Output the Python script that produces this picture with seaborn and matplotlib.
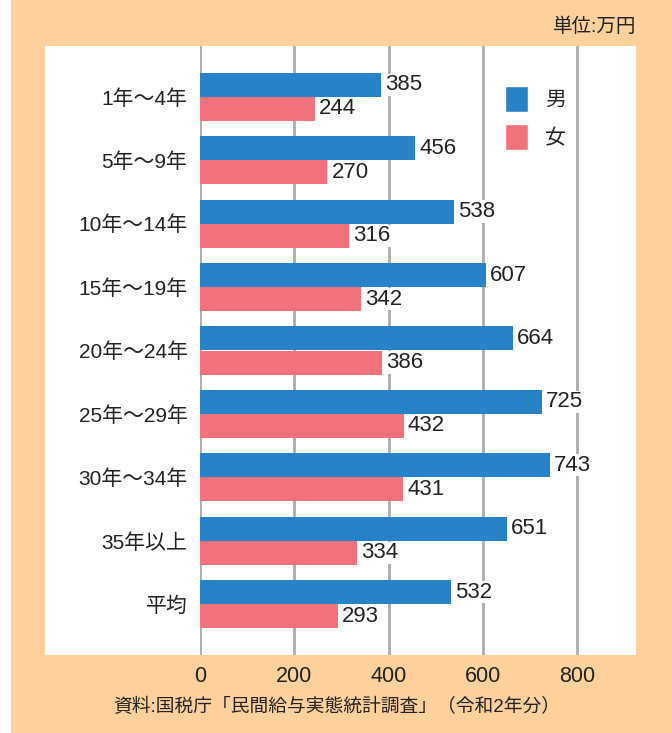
import pandas as pd
import seaborn as sns
import matplotlib.pyplot as plt
from matplotlib.patches import Rectangle, Patch

# data
categories = ["1年～4年", "5年～9年", "10年～14年", "15年～19年", "20年～24年",
              "25年～29年", "30年～34年", "35年以上", "平均"]
male = [385, 456, 538, 607, 664, 725, 743, 651, 532]
female = [244, 270, 316, 342, 386, 432, 431, 334, 293]
xticks = [0, 200, 400, 600, 800]

BLUE = "#2882C8"
PINK = "#F2727C"
PEACH = "#FDD09C"
GRID = "#ABABB0"
TXT = "#222222"
FAM = ["Liberation Sans", "Noto Sans CJK JP", "DejaVu Sans"]

df = pd.DataFrame({
    "年数": categories * 2,
    "金額": male + female,
    "性別": ["男"] * len(male) + ["女"] * len(female),
})

sns.set_style("white")
plt.rcParams["font.family"] = FAM

W, H = 672, 733
fig = plt.figure(figsize=(W / 100, H / 100), dpi=100)
fig.patch.set_facecolor("white")

# peach frame and white panel
fig.add_artist(Rectangle((11 / W, 0), 1 - 11 / W, 1, transform=fig.transFigure,
                         facecolor=PEACH, edgecolor="none", zorder=-2))
fig.add_artist(Rectangle((45 / W, (H - 655) / H), (636 - 45) / W, (655 - 46) / H,
                         transform=fig.transFigure, facecolor="white",
                         edgecolor="none", zorder=-1))

ax = fig.add_axes([200 / W, (H - 655) / H, (636 - 200) / W, (655 - 46) / H])
ax.patch.set_alpha(0)

sns.barplot(data=df, y="年数", x="金額", hue="性別", orient="h",
            palette={"男": BLUE, "女": PINK}, width=0.76, saturation=1,
            linewidth=0, legend=False, ax=ax, zorder=3)

for cont in ax.containers:
    ax.bar_label(cont, padding=3, fontsize=16, color=TXT, zorder=5,
                 bbox=dict(facecolor="white", edgecolor="none", pad=0.5))

xmax = (636 - 200) / ((577 - 200) / 800)
ax.set_xlim(0, xmax)
ax.set_ylim(8.8, -0.8)
ax.set_xticks(xticks)
ax.set_xticklabels([str(t) for t in xticks])
for t in xticks:
    ax.axvline(t, color=GRID, lw=2, zorder=1)

ax.set_xlabel("")
ax.set_ylabel("")
for s in ax.spines.values():
    s.set_visible(False)
ax.tick_params(axis="y", length=0, pad=9, labelsize=15, labelcolor=TXT)
ax.tick_params(axis="x", length=0, pad=8, labelsize=15.5, labelcolor=TXT)

handles = [Patch(facecolor=BLUE, label="男"), Patch(facecolor=PINK, label="女")]
ax.legend(handles=handles, loc="upper left", bbox_to_anchor=(0.70, 0.935),
          frameon=False, fontsize=15, handlelength=1.1, handleheight=1.55,
          labelspacing=0.6, handletextpad=0.8, borderpad=0, borderaxespad=0)

fig.text(636 / W, 1 - 27 / H, "単位:万円", ha="right", va="center",
         fontsize=14, color=TXT)
fig.text(337 / W, 1 - 707 / H, "資料:国税庁「民間給与実態統計調査」（令和2年分）",
         ha="center", va="center", fontsize=13.5, color=TXT)

fig.savefig("out.png", dpi=100, facecolor=fig.get_facecolor())
